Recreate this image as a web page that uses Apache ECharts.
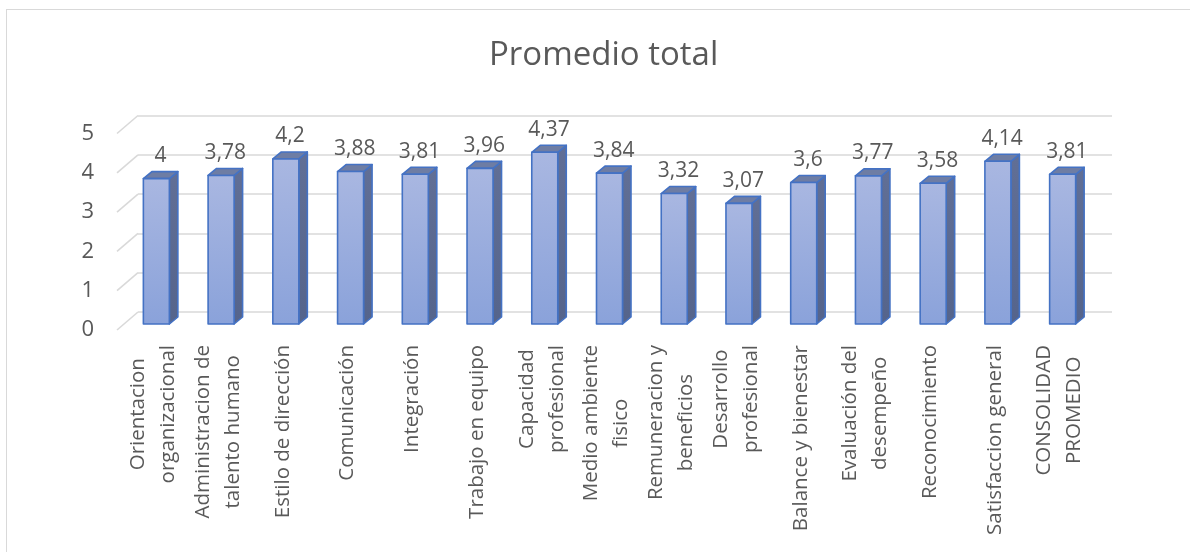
<!DOCTYPE html>
<html>
<head>
<meta charset="utf-8">
<script src="https://cdn.jsdelivr.net/npm/echarts@6/dist/echarts.min.js"></script>
<style>
  html, body { margin: 0; padding: 0; background: #ffffff; }
  #wrap { position: relative; width: 1190px; height: 552px; overflow: hidden; }
  #frame { position: absolute; left: 6px; top: 9px; width: 1300px; height: 700px;
           border-top: 1.5px solid #d9d9d9; border-left: 1.5px solid #d9d9d9; }
  #chart { position: absolute; left: 0; top: 0; width: 1190px; height: 552px; }
</style>
</head>
<body>
<div id="wrap"><div id="frame"></div><div id="chart"></div></div>
<script>
// ---- data ----
const titleText = 'Promedio total';
const categories = [
  'Orientacion\norganizacional',
  'Administracion de\ntalento humano',
  'Estilo de dirección',
  'Comunicación',
  'Integración',
  'Trabajo en equipo',
  'Capacidad\nprofesional',
  'Medio ambiente\nfisico',
  'Remuneracion y\nbeneficios',
  'Desarrollo\nprofesional',
  'Balance y bienestar',
  'Evaluación del\ndesempeño',
  'Reconocimiento',
  'Satisfaccion general',
  'CONSOLIDAD\nPROMEDIO'
];
const values = [3.7, 3.78, 4.2, 3.88, 3.81, 3.96, 4.37, 3.84, 3.32, 3.07, 3.6, 3.77, 3.58, 4.14, 3.81];
const labelTexts = ['4', '3,78', '4,2', '3,88', '3,81', '3,96', '4,37', '3,84', '3,32', '3,07', '3,6', '3,77', '3,58', '4,14', '3,81'];
const yTicks = [0, 1, 2, 3, 4, 5];

// ---- style constants ----
const TEXT = '#595959';
const GRID = '#d9d9d9';
const FONT = '"Open Sans", "DejaVu Sans", sans-serif';
const CAT_FONT = '20.5px ' + FONT;
const CAT_LINE_H = 30;
const CAT_MARGIN = 21;
const CAT_SHIFT = -3;
const BAR_W = 26;
const DEPTH_X = 8.5, DEPTH_Y = -7;
const WALL_X = 21, WALL_Y = -18;

const measureCtx = document.createElement('canvas').getContext('2d');
measureCtx.font = CAT_FONT;
function blockWidth(text) {
  return Math.max.apply(null, text.split('\n').map(s => measureCtx.measureText(s).width));
}

const chart = echarts.init(document.getElementById('chart'), null, { renderer: 'canvas' });

function barItem(params, api) {
  const idx = params.dataIndex;
  const topPt = api.coord([api.value(0), api.value(1)]);
  const basePt = api.coord([api.value(0), 0]);
  const l = topPt[0] - BAR_W / 2, r = l + BAR_W, t = topPt[1], b = basePt[1];
  const stroke = { stroke: '#4472c4', lineWidth: 1.6, lineJoin: 'round' };
  return {
    type: 'group',
    children: [
      { type: 'polygon',
        shape: { points: [[r, t], [r + DEPTH_X, t + DEPTH_Y], [r + DEPTH_X, b + DEPTH_Y], [r, b]] },
        style: Object.assign({ fill: new echarts.graphic.LinearGradient(0, 0, 0, 1, [
          { offset: 0, color: '#616f96' }, { offset: 1, color: '#55648b' }]) }, stroke) },
      { type: 'polygon',
        shape: { points: [[l, t], [l + DEPTH_X, t + DEPTH_Y], [r + DEPTH_X, t + DEPTH_Y], [r, t]] },
        style: Object.assign({ fill: '#6e7da4' }, stroke) },
      { type: 'rect',
        shape: { x: l, y: t, width: BAR_W, height: b - t },
        style: Object.assign({ fill: new echarts.graphic.LinearGradient(0, 0, 0, 1, [
          { offset: 0, color: '#a9b7e1' }, { offset: 1, color: '#8aa2da' }]) }, stroke) },
      { type: 'text',
        style: { text: labelTexts[idx], x: topPt[0] + DEPTH_X / 2, y: t - 12,
                 align: 'center', verticalAlign: 'bottom', font: '21px ' + FONT, fill: TEXT } }
    ]
  };
}

function catLabelItem(params, api) {
  const idx = params.dataIndex;
  const p = api.coord([api.value(0), 0]);
  const txt = categories[idx];
  const w = blockWidth(txt);
  return {
    type: 'text',
    x: p[0] + CAT_SHIFT,
    y: p[1] + CAT_MARGIN + w / 2,
    rotation: Math.PI / 2,
    style: { text: txt, x: 0, y: 0, align: 'center', verticalAlign: 'middle',
             font: CAT_FONT, lineHeight: CAT_LINE_H, fill: TEXT }
  };
}

function wallItem(params, api) {
  const p = api.coord([0, api.value(1)]);
  return {
    type: 'line',
    shape: { x1: p[0] - WALL_X, y1: p[1] - WALL_Y, x2: p[0], y2: p[1] },
    style: { stroke: GRID, lineWidth: 1.6 }
  };
}

const option = {
  animation: false,
  title: {
    text: titleText, left: 489, top: 39, padding: 0,
    textStyle: { fontFamily: FONT, fontSize: 33, fontWeight: 'normal', color: TEXT }
  },
  grid: [
    { left: 124, right: 95, top: 127.5, bottom: 228 },   // bars plane
    { left: 117, right: 99, top: 133.5, bottom: 222 },   // front plane (axis labels)
    { left: 138, right: 78, top: 115.5, bottom: 240 }    // back wall
  ],
  xAxis: [
    { type: 'category', gridIndex: 0, data: categories,
      axisLine: { show: false }, axisTick: { show: false }, axisLabel: { show: false } },
    { type: 'value', gridIndex: 1, min: 0, max: 1, show: false },
    { type: 'value', gridIndex: 2, min: 0, max: 1, show: false }
  ],
  yAxis: [
    { type: 'value', gridIndex: 0, min: 0, max: 5, interval: 1, show: false },
    { type: 'value', gridIndex: 1, min: 0, max: 5, interval: 1,
      axisLine: { show: false }, axisTick: { show: false }, splitLine: { show: false },
      axisLabel: { margin: 23, color: TEXT, fontFamily: FONT, fontSize: 22 } },
    { type: 'value', gridIndex: 2, min: 0, max: 5, interval: 1,
      axisLine: { show: false }, axisTick: { show: false }, axisLabel: { show: false },
      splitLine: { show: true, lineStyle: { color: GRID, width: 1.6 } } }
  ],
  series: [
    { type: 'custom', xAxisIndex: 2, yAxisIndex: 2, z: 1, silent: true,
      data: yTicks.map(v => [0, v]), renderItem: wallItem },
    { type: 'custom', xAxisIndex: 0, yAxisIndex: 0, z: 5, silent: true,
      data: values.map((v, i) => [i, v]), renderItem: barItem },
    { type: 'custom', xAxisIndex: 0, yAxisIndex: 0, z: 5, silent: true, clip: false,
      data: categories.map((c, i) => [i, 0]), renderItem: catLabelItem }
  ]
};
chart.setOption(option);
</script>
</body>
</html>
